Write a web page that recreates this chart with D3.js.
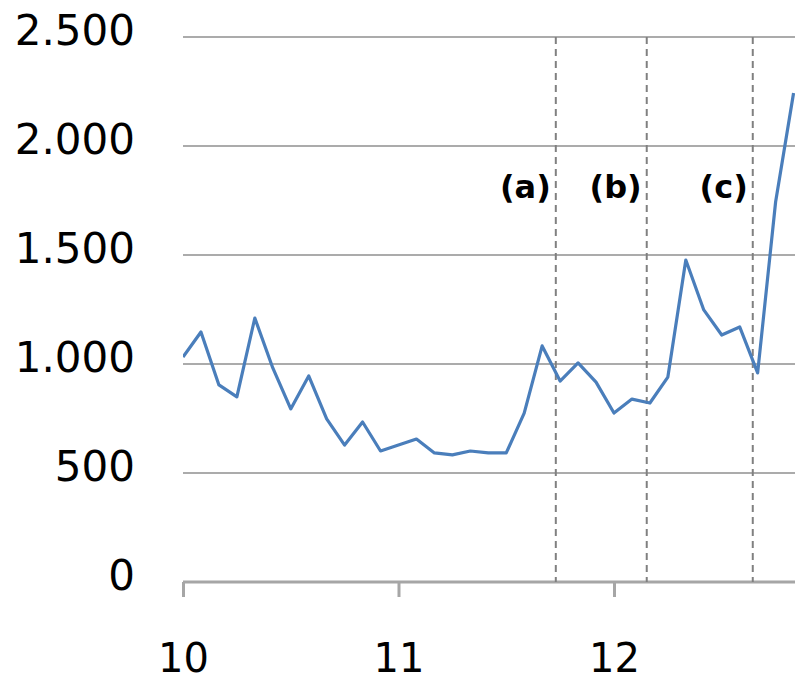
<!DOCTYPE html>
<html>
<head>
<meta charset="utf-8">
<script src="https://cdn.jsdelivr.net/npm/d3@7"></script>
<style>
  html, body { margin: 0; padding: 0; background: #fff; }
  svg { display: block; font-family: "DejaVu Sans", Verdana, sans-serif; }
</style>
</head>
<body>
<svg id="chart" width="795" height="682"></svg>
<script>
// ---- data ----
const startYear = 10;                 // first point = start of year "10"
const monthlyValues = [
  1032, 1147, 904, 849, 1211, 982, 794, 945, 748, 628, 734, 601,
  628, 656, 592, 583, 601, 592, 592, 775, 1083, 922, 1005, 917,
  775, 839, 821, 940, 1477, 1248, 1133, 1170, 959, 1743, 2243
];
const yTicks = [0, 500, 1000, 1500, 2000, 2500];
const xTicks = [10, 11, 12];
const markerLabels = ["(a)", "(b)", "(c)"];
const markerPositions = [11.73, 12.152, 12.644];

// ---- layout ----
const svg = d3.select("#chart");
const mLeft = 183, mRight = 795, mTop = 37, mBottom = 582;

const x = d3.scaleLinear().domain([10, 12.84]).range([mLeft, mRight]);
const y = d3.scaleLinear().domain([0, 2500]).range([mBottom, mTop]);

const de = d3.formatLocale({ decimal: ",", thousands: ".", grouping: [3], currency: ["", "€"] });
const fmt = de.format(",");

const points = monthlyValues.map((v, i) => ({ t: startYear + i / 12, v }));

// gridlines
svg.append("g")
  .selectAll("line")
  .data(yTicks.filter(d => d > 0))
  .join("line")
  .attr("x1", mLeft).attr("x2", mRight)
  .attr("y1", d => y(d)).attr("y2", d => y(d))
  .attr("stroke", "#ababab").attr("stroke-width", 2);

// y labels
svg.append("g")
  .selectAll("text")
  .data(yTicks)
  .join("text")
  .attr("x", 135)
  .attr("y", d => y(d) + 8)
  .attr("text-anchor", "end")
  .attr("font-size", 42)
  .attr("fill", "#000")
  .text(d => fmt(d));

// x axis
const xAxis = d3.axisBottom(x).tickValues(xTicks).tickSize(15).tickFormat(d3.format("d"));
const gx = svg.append("g").attr("transform", `translate(0,${mBottom})`).call(xAxis);
gx.select(".domain").attr("stroke", "#a6a6a6").attr("stroke-width", 3)
  .attr("d", `M${mLeft},0H${mRight}`);
gx.selectAll(".tick line").attr("stroke", "#a6a6a6").attr("stroke-width", 3);
gx.selectAll(".tick text")
  .attr("font-size", 40)
  .attr("font-family", "DejaVu Sans, sans-serif")
  .attr("fill", "#000")
  .attr("y", 0).attr("dy", 0)
  .attr("transform", "translate(0,90)");

// dashed markers
svg.append("g")
  .selectAll("line")
  .data(markerPositions)
  .join("line")
  .attr("x1", d => x(d)).attr("x2", d => x(d))
  .attr("y1", mTop).attr("y2", mBottom)
  .attr("stroke", "#808080").attr("stroke-width", 2)
  .attr("stroke-dasharray", "7,5");

svg.append("g")
  .selectAll("text")
  .data(markerPositions)
  .join("text")
  .attr("x", d => x(d) - 5)
  .attr("y", 198)
  .attr("text-anchor", "end")
  .attr("font-size", 32)
  .attr("font-weight", "bold")
  .attr("fill", "#000")
  .text((d, i) => markerLabels[i]);

// line
svg.append("clipPath").attr("id", "clip")
  .append("rect").attr("x", mLeft).attr("y", 0).attr("width", mRight - mLeft).attr("height", mBottom);

svg.append("path")
  .datum(points)
  .attr("clip-path", "url(#clip)")
  .attr("fill", "none")
  .attr("stroke", "#4a7ebb")
  .attr("stroke-width", 3.2)
  .attr("stroke-linejoin", "round")
  .attr("d", d3.line().x(d => x(d.t)).y(d => y(d.v)));
</script>
</body>
</html>
